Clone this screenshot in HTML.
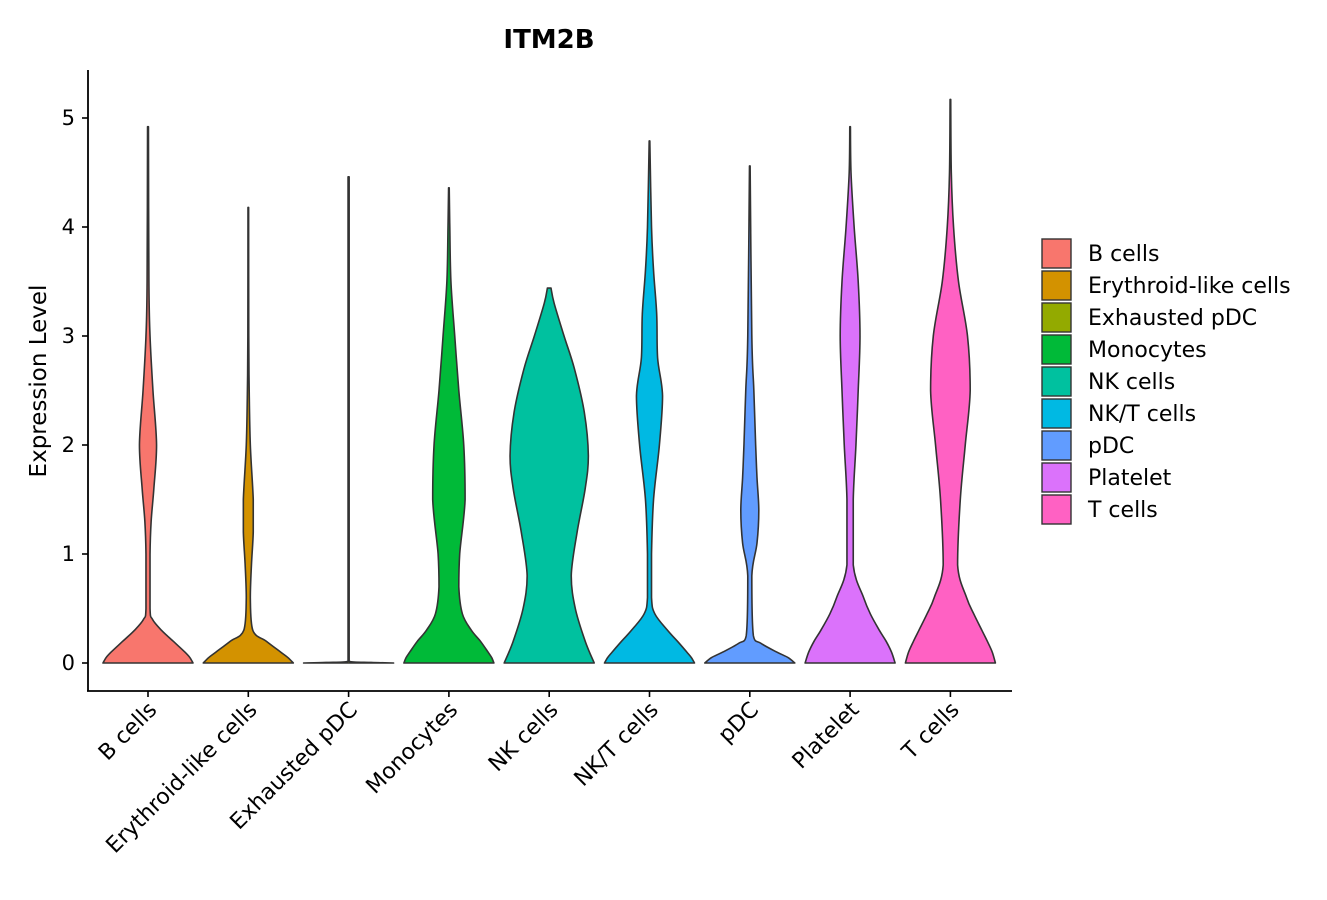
<!DOCTYPE html>
<html><head><meta charset="utf-8"><style>
body{margin:0;background:#fff;}
svg{display:block;font-family:"DejaVu Sans","Liberation Sans",sans-serif;}
</style></head><body>
<svg id="chart" width="1327" height="900" viewBox="0 0 1327 900">
<text x="549" y="48" text-anchor="middle" font-size="26" font-weight="bold">ITM2B</text>
<text transform="translate(46,381) rotate(-90)" text-anchor="middle" font-size="23">Expression Level</text>
<g id="plot"></g>
</svg>
<script>
const categories=["B cells","Erythroid-like cells","Exhausted pDC","Monocytes","NK cells","NK/T cells","pDC","Platelet","T cells"];
const colors=["#F8766D","#D39200","#93AA00","#00BA38","#00C19F","#00B9E3","#619CFF","#DB72FB","#FF61C3"];
const yTicks=[0,1,2,3,4,5];
// density profiles: expression levels and relative half-widths (max 1)
const levB=[0,0.05,0.1,0.2,0.3,0.4,0.5,1.0,1.3,1.6,2.0,2.5,3.0,3.5,4.92];
const widB=[1,0.93,0.82,0.56,0.3,0.1,0.045,0.045,0.07,0.13,0.19,0.11,0.045,0.02,0.01];
const levE=[0,0.05,0.1,0.2,0.3,0.6,0.9,1.2,1.5,2.0,2.5,3.0,4.18];
const widE=[1,0.88,0.72,0.4,0.1,0.045,0.07,0.11,0.11,0.045,0.02,0.01,0.007];
const levX=[0,0.005,0.015,4.46];
const widX=[1,0.5,0.012,0.012];
const levM=[0,0.05,0.1,0.2,0.3,0.45,0.7,1.0,1.5,2.0,2.5,3.0,3.5,4.0,4.36];
const widM=[1,0.95,0.87,0.7,0.5,0.3,0.22,0.24,0.36,0.33,0.22,0.13,0.045,0.02,0.007];
const levN=[0,0.2,0.5,0.8,1.2,1.6,1.9,2.3,2.7,3.0,3.3,3.44];
const widN=[1,0.8,0.58,0.49,0.62,0.8,0.87,0.78,0.56,0.33,0.11,0.04];
const levT=[0,0.05,0.1,0.2,0.3,0.45,0.6,1.0,1.5,2.0,2.45,2.8,3.2,3.6,4.0,4.79];
const widT=[1,0.93,0.83,0.62,0.4,0.12,0.045,0.045,0.09,0.22,0.29,0.18,0.16,0.09,0.045,0.007];
const levP=[0,0.05,0.1,0.18,0.25,0.8,1.1,1.4,1.7,2.0,2.5,3.0,4.56];
const widP=[1,0.85,0.6,0.25,0.08,0.045,0.16,0.2,0.16,0.13,0.09,0.045,0.007];
const levL=[0,0.1,0.2,0.3,0.45,0.6,0.9,1.5,2.0,2.5,3.0,3.5,4.0,4.5,4.92];
const widL=[1,0.92,0.8,0.65,0.45,0.3,0.07,0.07,0.13,0.18,0.22,0.18,0.09,0.02,0.007];
const levC=[0,0.1,0.2,0.3,0.45,0.6,0.9,1.5,2.0,2.5,3.0,3.5,4.0,4.5,5.17];
const widC=[1,0.93,0.82,0.7,0.52,0.36,0.16,0.22,0.33,0.44,0.38,0.18,0.07,0.02,0.007];
const levels=[levB,levE,levX,levM,levN,levT,levP,levL,levC];
const widths=[widB,widE,widX,widM,widN,widT,widP,widL,widC];

const NS="http://www.w3.org/2000/svg";
const g=document.getElementById('plot');
const x0=88,x1=1012,yTop=70,yBot=691;
const yScale=v=>663-v*109;
const xScale=i=>148+i*100.3;
const halfW=45;
function mk(t,a){const e=document.createElementNS(NS,t);for(const k in a)e.setAttribute(k,a[k]);g.appendChild(e);return e;}
const cl=(v,a,b)=>Math.min(Math.max(v,Math.min(a,b)),Math.max(a,b));
function smooth(pts){
  let d="M"+pts[0][0]+","+pts[0][1];
  for(let i=0;i<pts.length-1;i++){
    const p0=pts[Math.max(0,i-1)],p1=pts[i],p2=pts[i+1],p3=pts[Math.min(pts.length-1,i+2)];
    const c1=[cl(p1[0]+(p2[0]-p0[0])/6,p1[0],p2[0]),cl(p1[1]+(p2[1]-p0[1])/6,p1[1],p2[1])];
    const c2=[cl(p2[0]-(p3[0]-p1[0])/6,p1[0],p2[0]),cl(p2[1]-(p3[1]-p1[1])/6,p1[1],p2[1])];
    d+=" C"+c1[0].toFixed(2)+","+c1[1].toFixed(2)+" "+c2[0].toFixed(2)+","+c2[1].toFixed(2)+" "+p2[0].toFixed(2)+","+p2[1].toFixed(2);
  }
  return d;
}
categories.forEach((c,i)=>{
  const cx=xScale(i),lv=levels[i],wd=widths[i];
  const right=lv.map((v,j)=>[cx+wd[j]*halfW,yScale(v)]);
  const left=lv.map((v,j)=>[cx-wd[j]*halfW,yScale(v)]).reverse();
  let d=smooth(right);
  d+=" L"+left[0][0]+","+left[0][1]+smooth(left).replace(/^M[^ ]+/,"")+" Z";
  const p=mk('path',{d:d,fill:colors[i],stroke:"#333",'stroke-width':1.6,'stroke-linejoin':'round'});
  
  
  mk('line',{x1:cx,x2:cx,y1:691,y2:697,stroke:"#000",'stroke-width':1.6});
  const t=mk('text',{transform:`translate(${cx+10},711) rotate(-45)`,'text-anchor':'end','font-size':22});
  t.textContent=c;
  
  
});
yTicks.forEach(v=>{
  mk('line',{x1:82,x2:88,y1:yScale(v),y2:yScale(v),stroke:"#000",'stroke-width':1.6});
  const t=mk('text',{x:75,y:yScale(v)+7,'text-anchor':'end','font-size':21});
  t.textContent=v;
  
  
});
const ya=mk('line',{x1:x0,x2:x0,y1:yTop,y2:yBot,stroke:"#000",'stroke-width':1.8});


const xa=mk('line',{x1:x0-1,x2:x1,y1:yBot,y2:yBot,stroke:"#000",'stroke-width':1.8});


categories.forEach((c,i)=>{
  const y=239+i*32;
  const r=mk('rect',{x:1042,y:y,width:29,height:29,fill:colors[i],stroke:"#333",'stroke-width':1.4});
  
  
  const t=mk('text',{x:1088,y:y+22,'font-size':22});
  t.textContent=c;
  
  
});
</script>
</body></html>
